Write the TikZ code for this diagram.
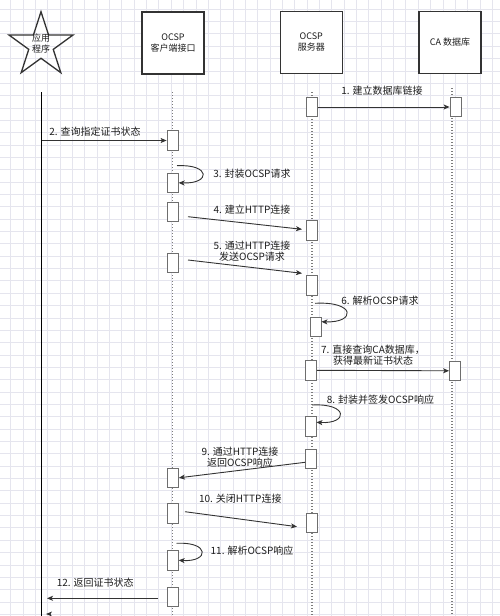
\documentclass[tikz,border=0pt]{standalone}
\usepackage{fontspec}
\setmainfont{Noto Sans CJK SC}
\usetikzlibrary{arrows.meta,calc}
\definecolor{gridc}{RGB}{229,229,238}
\definecolor{linec}{RGB}{51,51,51}
\definecolor{lifec}{RGB}{125,125,125}
\definecolor{actc}{RGB}{110,110,110}
\definecolor{txtc}{RGB}{30,30,30}
\begin{document}
\begin{tikzpicture}[x=1pt,y=-1pt,
  lbox/.style={draw=linec, line width=1.3pt, fill=white, minimum width=62pt, minimum height=62pt, align=center, font=\fontsize{9}{11}\selectfont, text=txtc, inner sep=0pt},
  act/.style={draw=actc, line width=0.8pt, fill=white, minimum width=11pt, minimum height=19.5pt, inner sep=0pt},
  life/.style={draw=lifec, line width=1.1pt, dash pattern=on 1.4pt off 1.6pt},
  msg/.style={draw=linec, line width=0.9pt, -{Stealth[length=6pt,width=5pt,inset=1.5pt]}},
  lbl/.style={font=\fontsize{10}{11}\selectfont, text=txtc, align=center, inner sep=0pt}]
\useasboundingbox (0,0) rectangle (500,616);
\fill[white] (0,0) rectangle (500,616);
% grid
\foreach \i in {0,...,39} {\draw[gridc, line width=0.5pt] ({10.5+12.35*\i},0) -- ({10.5+12.35*\i},616);}
\foreach \j in {0,...,49} {\draw[gridc, line width=0.5pt] (0,{9+12.35*\j}) -- (500,{9+12.35*\j});}
% actor star
\draw[linec, line width=1.3pt, shift={(41,45.4)}] (-90:33.7) -- (-54:12.87) -- (-18:33.7) -- (18:12.87) -- (54:33.7) -- (90:12.87) -- (126:33.7) -- (162:12.87) -- (198:33.7) -- (234:12.87) -- cycle;
\node[lbl, font=\fontsize{9}{11}\selectfont] (app) at (41,43.7) {应用\\程序};
% participant boxes
\node[lbox] (cli) at (173,43) {OCSP\\客户端接口};
\node[lbox] (srv) at (311.3,42.5) {OCSP\\服务器};
\node[lbox] (ca) at (450,42.5) {CA 数据库};
% lifelines
\coordinate (appTop) at (41.5,92); \coordinate (appBot) at (41.5,616);
\coordinate (cliTop) at (172.7,92); \coordinate (cliBot) at (172.7,616);
\coordinate (srvTop) at (312,92); \coordinate (srvBot) at (312,616);
\coordinate (caTop) at (452,88); \coordinate (caBot) at (452,616);
\draw[black, line width=1.4pt] (appTop) -- (appBot);
\draw[life] (cliTop) -- (cliBot);
\draw[life] (srvTop) -- (srvBot);
\draw[life] (caTop) -- (caBot);
% activations
\node[act] (A1s) at (312.2,107) {};
\node[act] (A1c) at (455.5,107) {};
\node[act] (A2) at (172.5,140.5) {};
\node[act] (A3) at (172.7,182.8) {};
\node[act] (A4c) at (172.5,211.7) {};
\node[act] (A4s) at (311.7,230.5) {};
\node[act] (A5c) at (172.5,262.8) {};
\node[act] (A5s) at (311.7,285.3) {};
\node[act] (A6) at (315.5,326.7) {};
\node[act] (A7s) at (311,370.3) {};
\node[act] (A7c) at (455,370.8) {};
\node[act] (A8) at (310.5,426.3) {};
\node[act] (A9s) at (311,458.8) {};
\node[act] (A9c) at (173,477.8) {};
\node[act] (A10c) at (172.5,513.3) {};
\node[act] (A10s) at (311.5,522.8) {};
\node[act] (A11) at (172.7,560.3) {};
\node[act] (A12) at (172.7,597) {};
% messages
\draw[msg] (A1s.east) -- (A1c.west);
\node[lbl] (L1) at (382,91) {1. 建立数据库链接};
\coordinate (m2s) at (41.5,140.5);
\draw[msg] (m2s) -- (A2.west);
\node[lbl] (L2) at (95,132) {2. 查询指定证书状态};
\coordinate (m3s) at (177,165.7);
\draw[msg] (m3s) .. controls (211,164) and (211,184) .. (A3.east);
\node[lbl] (L3) at (252,173.3) {3. 封装OCSP请求};
\coordinate (m4s) at (188,216.7); \coordinate (m4e) at (302,229.3);
\draw[msg] (m4s) -- (m4e);
\node[lbl] (L4) at (252,209.3) {4. 建立HTTP连接};
\coordinate (m5s) at (188,260); \coordinate (m5e) at (302,273.3);
\draw[msg] (m5s) -- (m5e);
\node[lbl] (L5) at (252,251.3) {5. 通过HTTP连接\\发送OCSP请求};
\coordinate (m6s) at (315,303.3);
\draw[msg] (m6s) .. controls (356,301) and (356,323) .. ([yshift=5pt]A6.east);
\node[lbl] (L6) at (380,300.7) {6. 解析OCSP请求};
\draw[msg] (A7s.east) -- (A7c.west);
\node[lbl] (L7) at (373,354.7) {7. 直接查询CA数据库，\\获得最新证书状态};
\coordinate (m8s) at (312,405);
\draw[msg] (m8s) .. controls (348.5,403) and (348.5,424) .. ([yshift=4pt]A8.east);
\node[lbl] (L8) at (380.5,399.3) {8. 封装并签发OCSP响应};
\draw[msg] ([yshift=-3.5pt]A9s.west) -- (A9c.east);
\node[lbl] (L9) at (240,457) {9. 通过HTTP连接\\返回OCSP响应};
\coordinate (m10s) at (185,511.7); \coordinate (m10e) at (297,526.7);
\draw[msg] (m10s) -- (m10e);
\node[lbl] (L10) at (240.3,498.3) {10. 关闭HTTP连接};
\coordinate (m11s) at (176.7,543.3);
\draw[msg] (m11s) .. controls (209.7,541.5) and (209.7,562) .. (A11.east);
\node[lbl] (L11) at (252,550.7) {11. 解析OCSP响应};
\coordinate (m12s) at (158.3,598.3); \coordinate (m12e) at (47,598.3);
\draw[msg] (m12s) -- (m12e);
\node[lbl] (L12) at (95.3,582.3) {12. 返回证书状态};
% partially visible arrow tip at the bottom edge
\fill[linec] (46,614) -- (52,611.5) -- (50.5,614) -- (52,616.5) -- cycle;
\end{tikzpicture}
\end{document}
